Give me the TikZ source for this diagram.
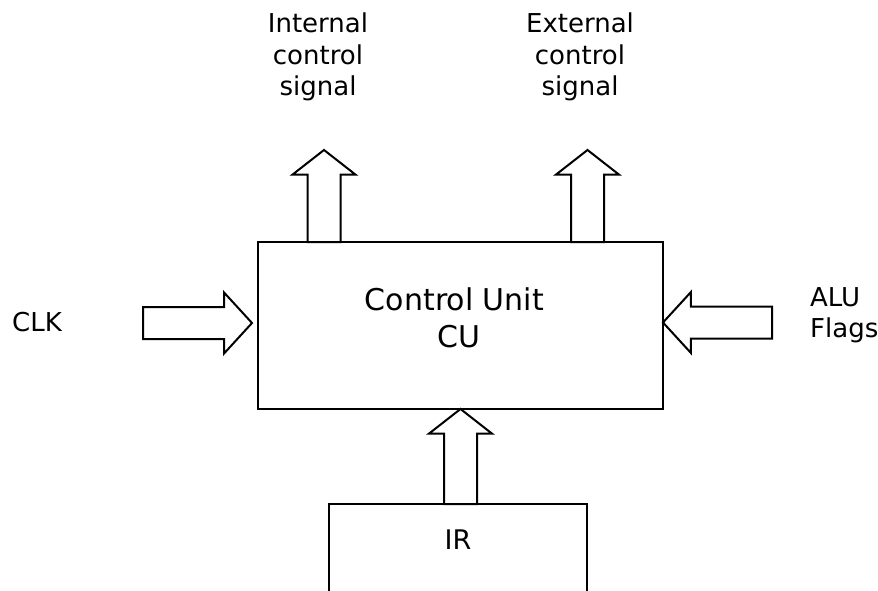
\documentclass[tikz,border=0pt]{standalone}
\usepackage{fontspec}
\setmainfont{DejaVu Sans}
\usetikzlibrary{shapes.arrows}

\tikzset{
  blk/.style={draw, line width=2pt, inner sep=0, outer sep=0},
  lbl/.style={font=\fontsize{26}{31.5}\selectfont, align=center, inner sep=0},
  bigtxt/.style={font=\fontsize{30}{37}\selectfont, align=center, inner sep=0},
  arr/.style={draw, line width=2pt, single arrow, outer sep=0},
  uparr/.style={arr, shape border rotate=90, inner sep=15.5pt,
    single arrow head extend=15pt, single arrow tip angle=104, minimum height=92pt},
  rtarr/.style={arr, shape border rotate=0, inner sep=15pt,
    single arrow head extend=14.5pt, single arrow tip angle=95, minimum height=109pt},
  ltarr/.style={rtarr, shape border rotate=180}
}

\begin{document}
\begin{tikzpicture}[x=1pt,y=-1pt]
    \useasboundingbox (0,0) rectangle (878,591);
    \clip (0,0) rectangle (878,591);

    \node[blk, minimum width=405pt, minimum height=167pt] (cu) at (460.5,325.5) {};
    \node[bigtxt] (cutxt) at ([xshift=-1.5pt,yshift=8pt]cu.center) {Control Unit\hspace*{.3em}\\CU};

    \node[inner sep=0, outer sep=0, minimum width=258pt, minimum height=72pt, anchor=north,
      font=\fontsize{27}{32}\selectfont] (ir) at (458,504) {IR};
    \draw[line width=2pt] ([yshift=-40pt]ir.south west) -- (ir.north west)
      -- (ir.north east) -- ([yshift=-40pt]ir.south east);

    \node[uparr, anchor=tail] (intarr) at ([xshift=-136.5pt]cu.north) {};
    \node[uparr, anchor=tail] (extarr) at ([xshift=127pt]cu.north) {};
    \node[uparr, anchor=tip, minimum height=95pt] (irarr) at (cu.south) {};
    \node[rtarr, anchor=tip] (clkarr) at ([xshift=-6pt,yshift=2.5pt]cu.west) {};
    \node[ltarr, anchor=tip] (aluarr) at ([yshift=3pt]cu.east) {};

    \node[lbl] (intlbl) at (318,57) {Internal\\control\\signal};
    \node[lbl] (extlbl) at (580,57) {External\\control\\signal};
    \node[lbl] (clk) at (37,322) {CLK};
    \node[lbl, align=left, anchor=west] (alu) at (810,315) {ALU\\Flags};
\end{tikzpicture}
\end{document}
